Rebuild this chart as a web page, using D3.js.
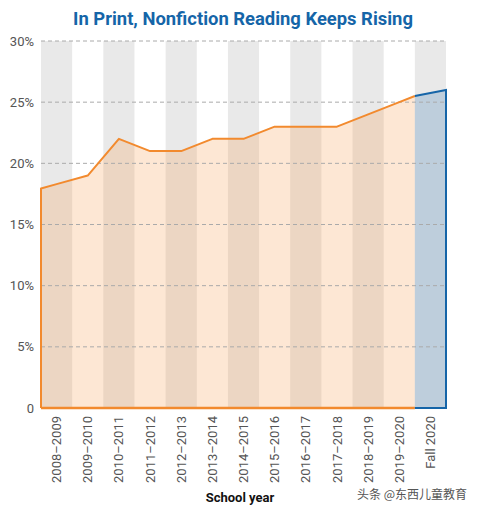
<!DOCTYPE html>
<html>
<head>
<meta charset="utf-8">
<script src="https://cdn.jsdelivr.net/npm/d3@7"></script>
<style>
  html, body { margin: 0; padding: 0; background: #fff; }
  svg { display: block; }
</style>
</head>
<body>
<svg id="chart" width="478" height="512"></svg>
<script>
// ---- data ----
const schoolYears = ["2008–2009","2009–2010","2010–2011","2011–2012","2012–2013","2013–2014",
                     "2014–2015","2015–2016","2016–2017","2017–2018","2018–2019","2019–2020"];
const fallLabel = "Fall 2020";
const categories = schoolYears.concat([fallLabel]);
const nonfictionShare = [18.3, 19, 22, 21, 21, 22, 22, 23, 23, 23, 24, 25];   // % at each school year
const fall2020Share = 26;                                                     // % at end of Fall 2020
const yTicks = [0, 5, 10, 15, 20, 25, 30];
const yTickLabels = ["0", "5%", "10%", "15%", "20%", "25%", "30%"];
const titleText = "In Print, Nonfiction Reading Keeps Rising";
const xTitleText = "School year";
const watermarkText = "头条 @东西儿童教育";

// ---- layout ----
const svg = d3.select("#chart");
const plotLeft = 41, plotRight = 446, plotTop = 41, plotBottom = 408;
const orange = "#f28a2e", blue = "#1565a8", gray = "#e9e9e9";

const x = d3.scaleBand().domain(categories).range([plotLeft, plotRight]).padding(0);
const y = d3.scaleLinear().domain([0, 30]).range([plotBottom, plotTop]);
const bw = x.bandwidth();
const cx = c => x(c) + bw / 2;

// alternating background bands
svg.append("g").selectAll("rect")
  .data(categories.filter((c, i) => i % 2 === 0))
  .join("rect")
  .attr("x", d => x(d)).attr("y", plotTop)
  .attr("width", bw).attr("height", plotBottom - plotTop)
  .attr("fill", gray);

// orange series points: extended half a band to the plot edge at both ends
const n = nonfictionShare.length;
const startVal = nonfictionShare[0] + (nonfictionShare[0] - nonfictionShare[1]) / 2;
const endVal = nonfictionShare[n - 1] + (nonfictionShare[n - 1] - nonfictionShare[n - 2]) / 2;
const orangePts = [[x(schoolYears[0]), startVal]]
  .concat(schoolYears.map((c, i) => [cx(c), nonfictionShare[i]]))
  .concat([[x(schoolYears[n - 1]) + bw, endVal]]);

const area = d3.area().x(d => d[0]).y0(y(0)).y1(d => y(d[1]));
const line = d3.line().x(d => d[0]).y(d => y(d[1]));

svg.append("path").datum(orangePts).attr("d", area)
  .attr("fill", "#f7903c").attr("fill-opacity", 0.22);

const bluePts = [[x(fallLabel), endVal], [x(fallLabel) + bw, fall2020Share]];
svg.append("path").datum(bluePts).attr("d", area)
  .attr("fill", blue).attr("fill-opacity", 0.2);

// gridlines
svg.append("g").selectAll("line")
  .data(yTicks.filter(t => t > 0))
  .join("line")
  .attr("x1", plotLeft).attr("x2", plotRight)
  .attr("y1", d => y(d)).attr("y2", d => y(d))
  .attr("stroke", "#aaaaaa").attr("stroke-width", 1)
  .attr("stroke-dasharray", "4,3");

// orange outline: left edge, top line, bottom
const oStart = orangePts[0], oEnd = orangePts[orangePts.length - 1];
svg.append("path")
  .datum([[oStart[0], 0]].concat(orangePts))
  .attr("d", line).attr("fill", "none")
  .attr("stroke", orange).attr("stroke-width", 2).attr("stroke-linejoin", "round");
svg.append("path")
  .datum([[oStart[0], 0], [oEnd[0], 0]])
  .attr("d", line).attr("fill", "none")
  .attr("stroke", orange).attr("stroke-width", 2.5);

// blue outline: top, right edge, bottom
svg.append("path")
  .datum(bluePts.concat([[x(fallLabel) + bw, 0], [x(fallLabel), 0]]))
  .attr("d", line).attr("fill", "none")
  .attr("stroke", blue).attr("stroke-width", 2).attr("stroke-linejoin", "miter");

// y axis labels
svg.append("g").selectAll("text")
  .data(yTicks)
  .join("text")
  .attr("x", 34).attr("y", d => y(d)).attr("dy", "0.35em")
  .attr("text-anchor", "end")
  .attr("font-family", "Roboto, sans-serif").attr("font-size", 13)
  .attr("fill", "#555")
  .text((d, i) => yTickLabels[i]);

// x axis labels (rotated)
svg.append("g").selectAll("text")
  .data(categories)
  .join("text")
  .attr("transform", d => `translate(${cx(d)},416) rotate(-90)`)
  .attr("dy", "0.35em")
  .attr("text-anchor", "end")
  .attr("font-family", "Roboto, sans-serif").attr("font-size", 13)
  .attr("fill", "#555")
  .text(d => d);

// titles
svg.append("text")
  .attr("x", 243).attr("y", 25)
  .attr("text-anchor", "middle")
  .attr("font-family", "Roboto, sans-serif").attr("font-weight", "bold")
  .attr("font-size", 18.4).attr("fill", blue)
  .text(titleText);

svg.append("text")
  .attr("x", 240).attr("y", 502)
  .attr("text-anchor", "middle")
  .attr("font-family", "Roboto, sans-serif").attr("font-weight", "bold")
  .attr("font-size", 13).attr("fill", "#111")
  .text(xTitleText);

svg.append("text")
  .attr("x", 467).attr("y", 499)
  .attr("text-anchor", "end")
  .attr("font-family", "'Noto Sans CJK SC', sans-serif")
  .attr("font-size", 12).attr("fill", "#555")
  .text(watermarkText);
</script>
</body>
</html>
